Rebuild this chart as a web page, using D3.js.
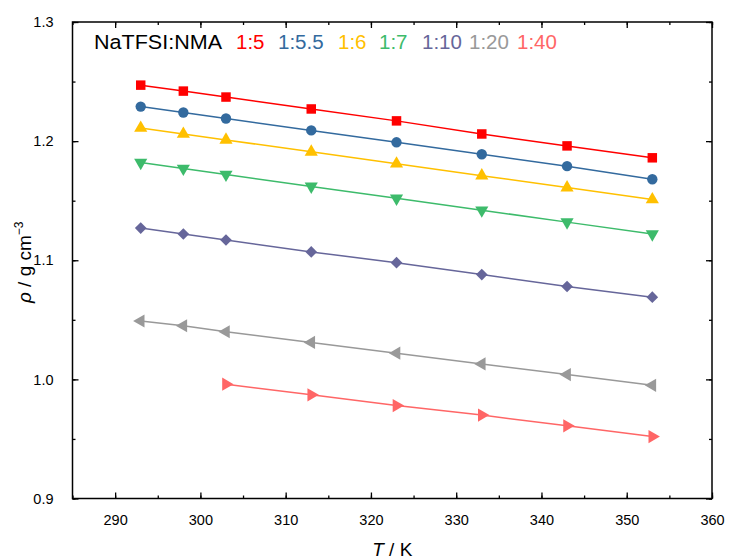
<!DOCTYPE html>
<html>
<head>
<meta charset="utf-8">
<script src="https://cdn.jsdelivr.net/npm/d3@7"></script>
<style>
  html, body { margin: 0; padding: 0; background: #fff; }
  svg text { font-family: Arial, "Liberation Sans", sans-serif; }
</style>
</head>
<body>
<svg id="chart" width="731" height="560"></svg>
<script>
// Temperatures (K)
const temps = [293, 298, 303, 313, 323, 333, 343, 353];
const tempsShort = [303, 313, 323, 333, 343, 353];

// Density (g cm^-3) for each NaTFSI:NMA ratio
const rho_1_5   = [1.247, 1.242, 1.237, 1.227, 1.217, 1.206, 1.196, 1.186];
const rho_1_5_5 = [1.229, 1.224, 1.219, 1.209, 1.199, 1.189, 1.179, 1.168];
const rho_1_6   = [1.211, 1.206, 1.201, 1.191, 1.181, 1.171, 1.161, 1.151];
const rho_1_7   = [1.182, 1.177, 1.172, 1.162, 1.152, 1.142, 1.132, 1.122];
const rho_1_10  = [1.127, 1.122, 1.117, 1.107, 1.098, 1.088, 1.078, 1.069];
const rho_1_20  = [1.049, 1.045, 1.040, 1.031, 1.022, 1.013, 1.004, 0.995];
const rho_1_40  = [0.996, 0.987, 0.978, 0.970, 0.961, 0.952];

const seriesNames  = ["1:5", "1:5.5", "1:6", "1:7", "1:10", "1:20", "1:40"];
const seriesColors = ["#ff0000", "#336a9e", "#ffc000", "#3dbb6b", "#66669a", "#999999", "#ff6666"];

const xTicks = [290, 300, 310, 320, 330, 340, 350, 360];
const yTicks = [0.9, 1.0, 1.1, 1.2, 1.3];

const series = [
  { name: seriesNames[0], x: temps,      y: rho_1_5,   color: seriesColors[0], shape: "square" },
  { name: seriesNames[1], x: temps,      y: rho_1_5_5, color: seriesColors[1], shape: "circle" },
  { name: seriesNames[2], x: temps,      y: rho_1_6,   color: seriesColors[2], shape: "up" },
  { name: seriesNames[3], x: temps,      y: rho_1_7,   color: seriesColors[3], shape: "down" },
  { name: seriesNames[4], x: temps,      y: rho_1_10,  color: seriesColors[4], shape: "diamond" },
  { name: seriesNames[5], x: temps,      y: rho_1_20,  color: seriesColors[5], shape: "left" },
  { name: seriesNames[6], x: tempsShort, y: rho_1_40,  color: seriesColors[6], shape: "right" }
];

const svg = d3.select("#chart");
const m = { left: 72.5, right: 712, top: 22, bottom: 498.5 };

const x = d3.scaleLinear().domain([285, 360]).range([m.left, m.right]);
const y = d3.scaleLinear().domain([0.9, 1.3]).range([m.bottom, m.top]);

// Lines
const line = d3.line().x(d => x(d[0])).y(d => y(d[1]));
series.forEach(s => {
  const pts = s.x.map((t, i) => [t, s.y[i]]);
  svg.append("path")
    .datum(pts)
    .attr("d", line)
    .attr("fill", "none")
    .attr("stroke", s.color)
    .attr("stroke-width", 1.5);
});

// Markers
const shapes = {
  square:  { type: d3.symbolSquare,   size: 90, rot: 0 },
  circle:  { type: d3.symbolCircle,   size: 85, rot: 0 },
  up:      { type: d3.symbolTriangle, size: 75, rot: 0 },
  down:    { type: d3.symbolTriangle, size: 75, rot: 180 },
  left:    { type: d3.symbolTriangle, size: 75, rot: -90 },
  right:   { type: d3.symbolTriangle, size: 75, rot: 90 },
  diamond: { type: d3.symbolSquare,   size: 68, rot: 45 }
};
series.forEach(s => {
  const sh = shapes[s.shape];
  const sym = d3.symbol().type(sh.type).size(sh.size);
  svg.append("g").selectAll("path")
    .data(s.x.map((t, i) => [t, s.y[i]]))
    .join("path")
    .attr("d", sym)
    .attr("transform", d => `translate(${x(d[0])},${y(d[1])}) rotate(${sh.rot})`)
    .attr("fill", s.color);
});

// Axes: ticks point inward on all four sides
const xMinor = d3.range(285, 361, 5);
const yMinor = d3.range(0, 9).map(i => 0.9 + i * 0.05);

function styleAxis(g) {
  g.select(".domain").remove();
  g.selectAll("line").attr("stroke", "#000").attr("stroke-width", 1.3);
  g.selectAll("text").attr("fill", "#000").attr("font-size", 14.5);
}

svg.append("g").attr("transform", `translate(0,${m.bottom})`)
  .call(d3.axisBottom(x).tickValues(xMinor).tickSize(-3).tickFormat(""))
  .call(styleAxis);
svg.append("g").attr("transform", `translate(0,${m.bottom})`)
  .call(d3.axisBottom(x).tickValues(xTicks).tickSize(-6).tickPadding(16).tickFormat(d3.format("d")))
  .call(styleAxis);
svg.append("g").attr("transform", `translate(0,${m.top})`)
  .call(d3.axisTop(x).tickValues(xMinor).tickSize(-3).tickFormat(""))
  .call(styleAxis);
svg.append("g").attr("transform", `translate(0,${m.top})`)
  .call(d3.axisTop(x).tickValues(xTicks).tickSize(-6).tickFormat(""))
  .call(styleAxis);

svg.append("g").attr("transform", `translate(${m.left},0)`)
  .call(d3.axisLeft(y).tickValues(yMinor).tickSize(-3).tickFormat(""))
  .call(styleAxis);
svg.append("g").attr("transform", `translate(${m.left},0)`)
  .call(d3.axisLeft(y).tickValues(yTicks).tickSize(-6).tickPadding(19).tickFormat(d3.format(".1f")))
  .call(styleAxis);
svg.append("g").attr("transform", `translate(${m.right},0)`)
  .call(d3.axisRight(y).tickValues(yMinor).tickSize(-3).tickFormat(""))
  .call(styleAxis);
svg.append("g").attr("transform", `translate(${m.right},0)`)
  .call(d3.axisRight(y).tickValues(yTicks).tickSize(-6).tickFormat(""))
  .call(styleAxis);

// Frame
svg.append("rect")
  .attr("x", m.left).attr("y", m.top)
  .attr("width", m.right - m.left).attr("height", m.bottom - m.top)
  .attr("fill", "none").attr("stroke", "#000").attr("stroke-width", 1.5);

// Axis titles
const xt = svg.append("text")
  .attr("x", (m.left + m.right) / 2).attr("y", 556)
  .attr("text-anchor", "middle").attr("font-size", 19);
xt.append("tspan").attr("font-style", "italic").text("T");
xt.append("tspan").text(" / K");

const yt = svg.append("text")
  .attr("transform", `translate(30.5,${(m.top + m.bottom) / 2 + 2}) rotate(-90)`)
  .attr("text-anchor", "middle").attr("font-size", 19);
yt.append("tspan").attr("font-style", "italic").text("\u03c1");
yt.append("tspan").text(" / g cm");
yt.append("tspan").attr("font-size", 12).attr("dy", -8).text("\u22123");

// Legend line
const legendX = [236, 278, 338, 379, 422, 469, 517];
svg.append("text").attr("x", 94).attr("y", 49).attr("font-size", 20.5).attr("fill", "#000")
  .attr("textLength", 128).attr("lengthAdjust", "spacingAndGlyphs").text("NaTFSI:NMA");
svg.append("g").selectAll("text")
  .data(seriesNames)
  .join("text")
  .attr("x", (d, i) => legendX[i]).attr("y", 49)
  .attr("font-size", 20.5)
  .attr("fill", (d, i) => seriesColors[i])
  .text(d => d);
</script>
</body>
</html>
